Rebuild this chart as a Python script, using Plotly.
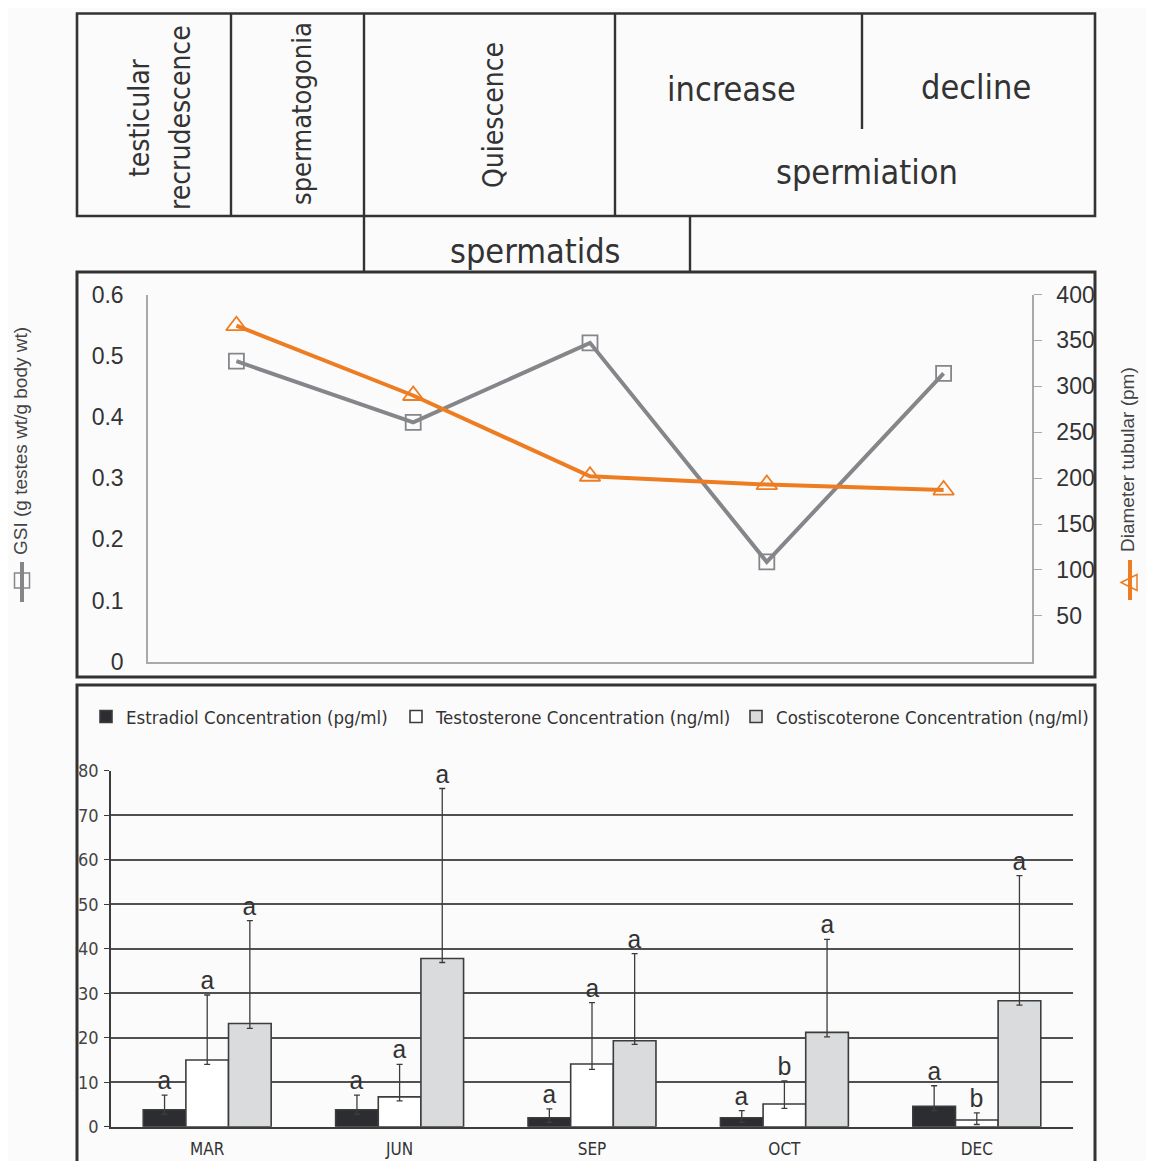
import plotly.graph_objects as go

# ---------------- data ----------------
months = ["MAR", "JUN", "SEP", "OCT", "DEC"]

gsi = [0.491, 0.391, 0.521, 0.163, 0.471]
diameter = [366, 290, 202, 193, 187]

estradiol = [3.8, 3.8, 2.0, 2.0, 4.6]
estradiol_err_plus = [3.3, 3.3, 2.0, 1.6, 4.6]
estradiol_err_minus = [1.0, 1.0, 1.0, 1.0, 1.0]
estradiol_letters = ["a", "a", "a", "a", "a"]

testosterone = [15.0, 6.7, 14.1, 5.1, 1.5]
testosterone_err_plus = [14.6, 7.3, 13.8, 5.2, 1.6]
testosterone_err_minus = [1.0, 0.9, 1.2, 1.0, 1.0]
testosterone_letters = ["a", "a", "a", "b", "b"]

costi = [23.2, 37.8, 19.3, 21.2, 28.3]
costi_err_plus = [23.1, 38.2, 19.6, 20.9, 28.1]
costi_err_minus = [1.1, 0.9, 0.8, 1.0, 1.0]
costi_letters = ["a", "a", "a", "a", "a"]

gsi_ticks = [0, 0.1, 0.2, 0.3, 0.4, 0.5, 0.6]
diam_ticks = [50, 100, 150, 200, 250, 300, 350, 400]

# ---------------- layout helpers ----------------
# page body has an 8px margin, so the figure is sized to the remaining viewport
OFF = 8
W, H = 1146, 1153
def px(x):
    return (x - OFF) / W
def py(y):
    return 1 - (y - OFF) / H

NARROW = "DejaVu Sans Condensed, Liberation Sans Narrow, Arial Narrow, sans-serif"
SANS = "Liberation Sans, Arial, Helvetica, sans-serif"
MONO = "Liberation Mono, Courier New, monospace"
DARK = "#333333"
GRAY_LINE = "#848689"
ORANGE = "#ee7d22"
AXIS_GRAY = "#a7a9ac"

BARGAP = 0.335
xs = list(range(len(months)))

fig = go.Figure()

# ---------------- bar chart (hormones) ----------------
bar_specs = [
    ("Estradiol Concentration (pg/ml)", estradiol, estradiol_err_plus, estradiol_err_minus, "#2b2d31", "legend"),
    ("Testosterone Concentration (ng/ml)", testosterone, testosterone_err_plus, testosterone_err_minus, "#ffffff", "legend2"),
    ("Costiscoterone Concentration (ng/ml)", costi, costi_err_plus, costi_err_minus, "#d9dbdd", "legend3"),
]
for name, vals, ep, em, col, leg in bar_specs:
    fig.add_trace(go.Bar(
        x=xs, y=vals, name=name,
        marker=dict(color=col, line=dict(color="#3c3c3c", width=1.6)),
        error_y=dict(type="data", symmetric=False, array=ep, arrayminus=em,
                     color="#3c3c3c", thickness=1.3, width=3),
        xaxis="x", yaxis="y", legend=leg,
    ))

# significance letters above error bars
bw = (1 - BARGAP) / 3
letter_sets = [
    (estradiol, estradiol_err_plus, estradiol_letters),
    (testosterone, testosterone_err_plus, testosterone_letters),
    (costi, costi_err_plus, costi_letters),
]
for k, (vals, ep, letters) in enumerate(letter_sets):
    for i in xs:
        fig.add_annotation(
            x=i + (k - 1) * bw, y=vals[i] + ep[i], xref="x", yref="y",
            text=letters[i], showarrow=False, yanchor="bottom", yshift=-4,
            font=dict(family=MONO, size=25, color=DARK),
        )

# ---------------- line chart (GSI & diameter) ----------------
fig.add_trace(go.Scatter(
    x=xs, y=gsi, mode="lines+markers", name="GSI",
    line=dict(color=GRAY_LINE, width=4),
    marker=dict(symbol="square-open", size=15, color=GRAY_LINE, line=dict(width=1.8)),
    xaxis="x2", yaxis="y2", showlegend=False,
))
fig.add_trace(go.Scatter(
    x=xs, y=diameter, mode="lines+markers", name="Diameter tubular",
    line=dict(color=ORANGE, width=4),
    marker=dict(symbol="triangle-up-open", size=18, color=ORANGE, line=dict(width=1.8)),
    xaxis="x2", yaxis="y3", showlegend=False,
))

# ---------------- shapes: panels & stage table ----------------
shapes = []
def line(x0, y0, x1, y1, w=2.4, c=DARK):
    shapes.append(dict(type="line", xref="paper", yref="paper",
                       x0=px(x0), y0=py(y0), x1=px(x1), y1=py(y1),
                       line=dict(color=c, width=w)))
def rect(x0, y0, x1, y1, w=2.6, c=DARK):
    shapes.append(dict(type="rect", xref="paper", yref="paper",
                       x0=px(x0), y0=py(y0), x1=px(x1), y1=py(y1),
                       line=dict(color=c, width=w), fillcolor="rgba(0,0,0,0)"))

rect(77, 13.5, 1095, 216)          # stage table
line(231, 13.5, 231, 216)
line(364, 13.5, 364, 216)
line(615, 13.5, 615, 216)
line(862, 13.5, 862, 129)
line(364, 216, 364, 272)           # spermatids box
line(690, 216, 690, 272)
rect(77, 272, 1095, 677, w=3)      # line chart panel
rect(77, 685, 1095, 1175, w=3)     # bar chart panel

# axis-title symbols (line+square, line+triangle)
line(22, 562, 22, 602, w=4, c=GRAY_LINE)
shapes.append(dict(type="rect", xref="paper", yref="paper",
                   x0=px(14.5), y0=py(573), x1=px(29.5), y1=py(588),
                   line=dict(color=GRAY_LINE, width=1.5), fillcolor="rgba(0,0,0,0)"))
line(1130, 560, 1130, 600, w=4, c=ORANGE)
shapes.append(dict(type="path", xref="paper", yref="paper",
                   path="M {:.5f},{:.5f} L {:.5f},{:.5f} L {:.5f},{:.5f} Z".format(
                       px(1121), py(582.5), px(1137), py(574.5), px(1137), py(590.5)),
                   line=dict(color=ORANGE, width=1.5), fillcolor="rgba(0,0,0,0)"))

# ---------------- stage text ----------------
def txt(x, y, s, size, angle=0, family=NARROW, color=DARK):
    fig.add_annotation(x=px(x), y=py(y), xref="paper", yref="paper", text=s,
                       showarrow=False, textangle=angle, xanchor="center", yanchor="middle",
                       font=dict(family=family, size=size, color=color))

txt(139, 118, "testicular", 28, angle=-90)
txt(180, 118, "recrudescence", 28, angle=-90)
txt(302, 114, "spermatogonia", 27, angle=-90)
txt(494, 115, "Quiescence", 28, angle=-90)
txt(731, 89, "increase", 34)
txt(976, 87, "decline", 34)
txt(867, 172, "spermiation", 34)
txt(535, 251, "spermatids", 34)

txt(20, 441, "GSI (g testes wt/g body wt)", 19, angle=-90, family=SANS, color="#444444")
txt(1128, 460, "Diameter tubular (pm)", 19, angle=-90, family=SANS, color="#444444")

# ---------------- axes ----------------
fig.update_layout(
    width=W, height=H, autosize=False,
    margin=dict(l=0, r=0, t=0, b=0, autoexpand=False),
    paper_bgcolor="#fbfbfc", plot_bgcolor="rgba(0,0,0,0)",
    barmode="group", bargap=BARGAP, bargroupgap=0,
    shapes=shapes,
    # bar chart axes
    xaxis=dict(domain=[px(111), px(1073)], anchor="y", range=[-0.5, 4.5], automargin=False,
               tickvals=xs, ticktext=months, showgrid=False, zeroline=False,
               showline=True, linecolor="#3c3c3c", linewidth=1.5, ticks="",
               ticklabelstandoff=6,
               tickfont=dict(family=NARROW, size=17, color=DARK)),
    yaxis=dict(domain=[py(1126.7), py(770.7)], anchor="x", range=[0, 80], dtick=10,
               automargin=False,
               showgrid=True, gridcolor="#505050", gridwidth=1.5, zeroline=False,
               showline=True, linecolor="#3c3c3c", linewidth=1.5,
               ticks="outside", ticklen=5, tickcolor="#3c3c3c", ticklabelstandoff=2,
               tickfont=dict(family=NARROW, size=18, color="#444444")),
    # line chart axes
    xaxis2=dict(domain=[px(148), px(1032)], anchor="y2", range=[-0.5, 4.5], automargin=False,
                showticklabels=False, showgrid=False, zeroline=False,
                showline=True, linecolor=AXIS_GRAY, linewidth=1.5, ticks=""),
    yaxis2=dict(domain=[py(661.7), py(294.5)], anchor="x2", range=[0, 0.6], automargin=False,
                tickvals=gsi_ticks, ticktext=[str(t) for t in gsi_ticks],
                showgrid=False, zeroline=False, showline=True,
                linecolor=AXIS_GRAY, linewidth=1.5, ticks="", ticklabelstandoff=18,
                tickfont=dict(family=SANS, size=23, color=DARK)),
    yaxis3=dict(overlaying="y2", side="right", anchor="x2", range=[0, 400], automargin=False,
                tickvals=diam_ticks, showgrid=False, zeroline=False, showline=True,
                linecolor=AXIS_GRAY, linewidth=1.5, ticks="outside", ticklen=8,
                tickcolor=AXIS_GRAY, ticklabelstandoff=10,
                tickfont=dict(family=SANS, size=23, color=DARK)),
)

leg_common = dict(orientation="h", xanchor="left", yanchor="middle", bgcolor="rgba(0,0,0,0)",
                  borderwidth=0, font=dict(family=NARROW, size=18.5, color=DARK),
                  itemclick=False, itemdoubleclick=False)
fig.update_layout(
    legend=dict(x=px(86), y=py(717), **leg_common),
    legend2=dict(x=px(396), y=py(717), **leg_common),
    legend3=dict(x=px(736), y=py(717), **leg_common),
)

fig.write_html("out.html")
